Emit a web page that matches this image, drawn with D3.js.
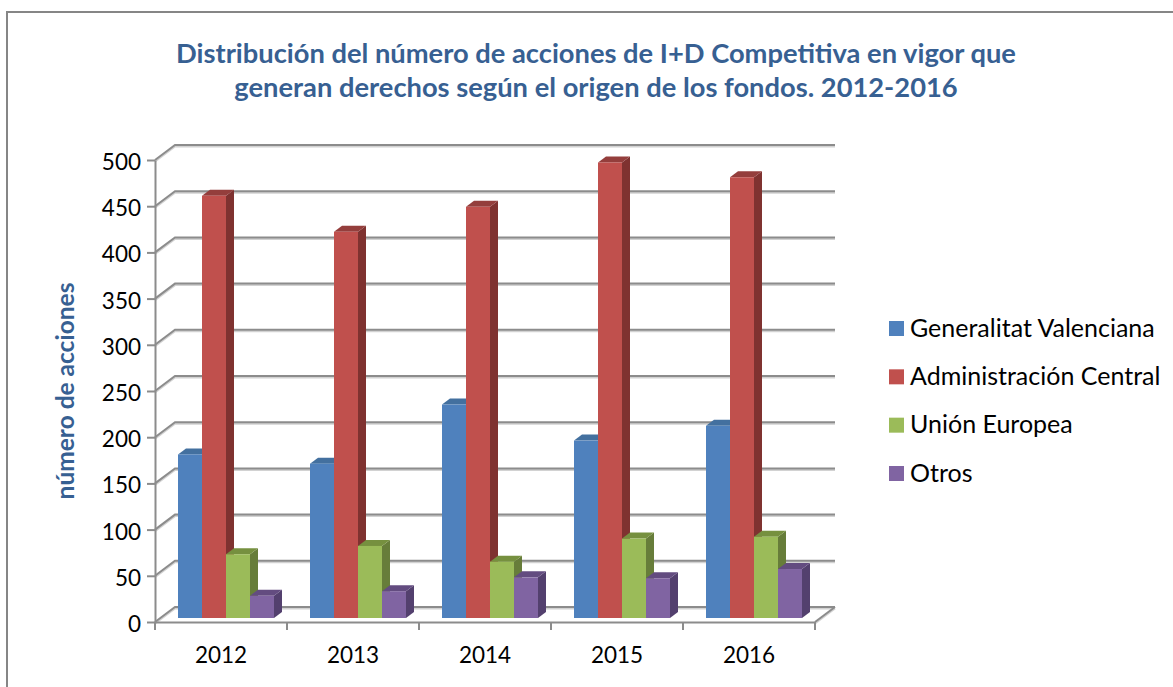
<!DOCTYPE html>
<html>
<head>
<meta charset="utf-8">
<script src="https://cdnjs.cloudflare.com/ajax/libs/d3/7.8.5/d3.min.js"></script>
<style>
html, body { margin: 0; padding: 0; background: #fff; }
svg { display: block; }
text { font-family: Lato, "Open Sans", sans-serif; }
</style>
</head>
<body>
<div id="viewportContainer"></div>
<script>
/* --- datos --- */
const years = ["2012", "2013", "2014", "2015", "2016"];
const seriesNames = ["Generalitat Valenciana", "Administración Central", "Unión Europea", "Otros"];
const generalitat = [177, 167, 231, 192, 208];
const central = [457, 418, 445, 493, 477];
const europea = [69, 78, 61, 86, 88];
const otros = [24, 29, 44, 43, 53];
const seriesValues = [generalitat, central, europea, otros];
const yTicks = [0, 50, 100, 150, 200, 250, 300, 350, 400, 450, 500];
const titleLines = [
    "Distribución del número de acciones de I+D Competitiva en vigor que",
    "generan derechos según el origen de los fondos. 2012-2016"
];

const frontColors = ["#4f81bd", "#c0504d", "#9bbb59", "#8064a2"];
const sideColors = ["#3a5f8c", "#7f3230", "#677d3a", "#53406e"];
const topColors = ["#43709f", "#943e3c", "#76903f", "#634c80"];
const axisColor = "#8c8c8c";

const width = 1173, height = 687;
const wall = {dx: 20, dy: -15};   // desplazamiento de la pared del fondo
const depth = {dx: 8, dy: -6};    // profundidad de cada barra

const svg = d3.select("#viewportContainer").append("svg")
    .attr("width", width)
    .attr("height", height);

/* --- marco --- */
svg.append("path")
    .attr("d", "M7,688V12H1174")
    .attr("fill", "none")
    .attr("stroke", "#868686")
    .attr("stroke-width", 2);

/* --- titulo --- */
svg.append("g").selectAll("text")
    .data(titleLines)
    .enter().append("text")
    .attr("x", 596)
    .attr("y", function(d, i) { return 63 + i * 34; })
    .attr("text-anchor", "middle")
    .attr("font-size", 27.3)
    .attr("font-weight", 700)
    .attr("fill", "#376092")
    .text(function(d) { return d; });

/* --- escalas --- */
const xScale = d3.scaleBand().domain(years).range([155, 815]);
const seriesScale = d3.scaleBand().domain(seriesNames).range([23, 119]);
const yScale = d3.scaleLinear().domain([0, 500]).range([622, 160]);
const barScale = d3.scaleLinear().domain([0, 500]).range([618, 156]);

/* --- rejilla y suelo --- */
function gridPath(d) {
    const y = yScale(d);
    return "M155," + y + "L" + (155 + wall.dx) + "," + (y + wall.dy) + "H" + (815 + wall.dx);
}
const floorPath = "M815," + yScale(0) + "L" + (815 + wall.dx) + "," + (yScale(0) + wall.dy);

// sombra suave debajo de cada linea
[{color: "#d2d2d2", shift: 1.5}, {color: axisColor, shift: 0}].forEach(function(layer) {
    const grid = svg.append("g")
        .attr("transform", "translate(0," + layer.shift + ")")
        .attr("fill", "none")
        .attr("stroke", layer.color)
        .attr("stroke-width", 2);
    grid.selectAll("path.grid")
        .data(yTicks)
        .enter().append("path")
        .attr("class", "grid")
        .attr("d", gridPath);
    grid.append("path").attr("d", floorPath);
});

/* --- ejes --- */
const yAxis = d3.axisLeft(yScale).tickValues(yTicks).tickSize(8).tickSizeOuter(0).tickPadding(6);
const xAxis = d3.axisBottom(xScale).tickSize(0).tickSizeOuter(0).tickPadding(25);

const yAxisG = svg.append("g").attr("transform", "translate(155,0)").call(yAxis);
const xAxisG = svg.append("g").attr("transform", "translate(0,622)").call(xAxis);

xAxisG.selectAll(".boundary")
    .data(d3.range(years.length + 1))
    .enter().append("line")
    .attr("class", "boundary")
    .attr("x1", function(d) { return 155 + d * xScale.bandwidth(); })
    .attr("x2", function(d) { return 155 + d * xScale.bandwidth(); })
    .attr("y1", 0)
    .attr("y2", 8)
    .attr("stroke", axisColor)
    .attr("stroke-width", 2);

[yAxisG, xAxisG].forEach(function(g) {
    g.selectAll("path.domain, .tick line").attr("stroke", axisColor).attr("stroke-width", 2);
    g.selectAll("text").attr("font-size", 22.5).attr("font-family", "Lato").attr("fill", "#000");
});
yAxisG.selectAll("text").attr("dy", "0.42em");

/* --- barras --- */
const bars = svg.append("g");
seriesNames.forEach(function(name, s) {
    years.forEach(function(year, c) {
        const v = seriesValues[s][c];
        const x0 = xScale(year) + seriesScale(name);
        const x1 = x0 + seriesScale.bandwidth();
        const y0 = barScale(0);
        const y1 = barScale(v);
        const g = bars.append("g");
        // cara lateral
        g.append("path")
            .attr("d", "M" + x1 + "," + y0 + "V" + y1 + "l" + depth.dx + "," + depth.dy + "V" + (y0 + depth.dy) + "Z")
            .attr("fill", sideColors[s]);
        // cara superior
        g.append("path")
            .attr("d", "M" + x0 + "," + y1 + "H" + x1 + "l" + depth.dx + "," + depth.dy + "H" + (x0 + depth.dx) + "Z")
            .attr("fill", topColors[s]);
        // cara frontal
        g.append("rect")
            .attr("x", x0)
            .attr("y", y1)
            .attr("width", seriesScale.bandwidth())
            .attr("height", y0 - y1)
            .attr("fill", frontColors[s]);
    });
});

/* --- titulo del eje --- */
svg.append("text")
    .attr("transform", "translate(74,391) rotate(-90)")
    .attr("text-anchor", "middle")
    .attr("font-size", 24.5)
    .attr("font-weight", 700)
    .attr("fill", "#376092")
    .text("número de acciones");

/* --- leyenda --- */
const legendY = d3.scalePoint().domain(seriesNames).range([328.5, 473.5]);
const legend = svg.append("g").selectAll("g")
    .data(seriesNames)
    .enter().append("g")
    .attr("transform", function(d) { return "translate(889," + legendY(d) + ")"; });

legend.append("rect")
    .attr("y", -7.5)
    .attr("width", 15)
    .attr("height", 15)
    .attr("fill", function(d, i) { return frontColors[i]; });

legend.append("text")
    .attr("x", 21)
    .attr("y", 8)
    .attr("font-size", 25)
    .attr("fill", "#000")
    .text(function(d) { return d; });
</script>
</body>
</html>
